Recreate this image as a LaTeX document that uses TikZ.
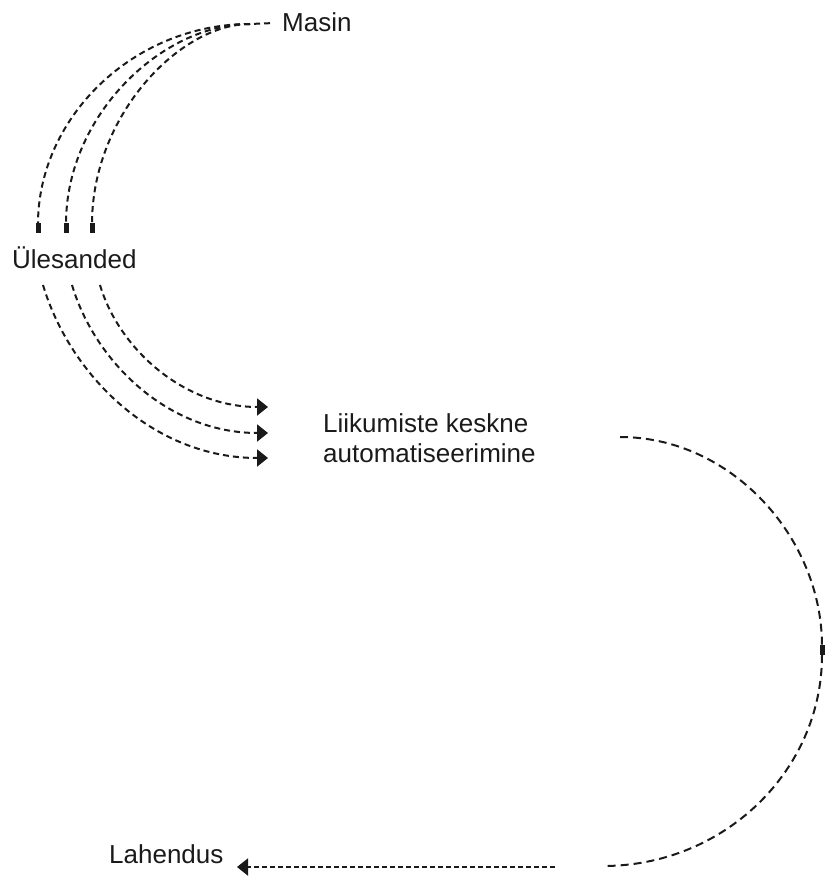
\documentclass[tikz,border=0pt]{standalone}
\usepackage{fontspec}
\setmainfont{Liberation Sans}
\usetikzlibrary{arrows.meta}
\definecolor{ink}{HTML}{1A1A1A}
\begin{document}
\begin{tikzpicture}[x=1pt,y=-1pt,
  lbl/.style={inner sep=0pt,anchor=base west,align=left,font=\fontsize{26}{30}\selectfont,text=ink},
  dline/.style={draw=ink,line width=2pt,dash pattern=on 6pt off 4pt},
  tri/.style={-{Triangle[length=11pt,width=17pt]}},
  bar/.style={-{Rectangle[length=10pt,width=5pt]}}]
\useasboundingbox (0,0) rectangle (831,877);
% nodes
\node[lbl] (masin) at (282,32) {Masin};
\node[lbl] (ules) at (12,268) {Ülesanded};
\node[lbl] (auto) at (323,462) {Liikumiste keskne\\automatiseerimine};
\node[lbl] (lah) at (109,863) {Lahendus};
% helper coordinates
\coordinate (m) at (250,24);
\coordinate (u1) at (38,233);
\coordinate (u2) at (66,233);
\coordinate (u3) at (92,233);
\coordinate (s1) at (43,285);
\coordinate (s2) at (72,285);
\coordinate (s3) at (100,285);
\coordinate (t1) at (268,458);
\coordinate (t2) at (268,433);
\coordinate (t3) at (268,407);
\coordinate (a1) at (620,437);
\coordinate (a2) at (822,655);
\coordinate (a3) at (603,866);
\coordinate (b1) at (555,867);
\coordinate (b2) at (237,867);
% Masin -> Ulesanded
\draw[dline,shorten <=12pt] (masin.west) -- (m);
\draw[dline,bar] (m) .. controls +(-117,0) and +(0,-115) .. (u1);
\draw[dline,bar] (m) .. controls +(-88,0) and +(0,-118) .. (u2);
\draw[dline,bar] (m) .. controls +(-70,0) and +(0,-118) .. (u3);
% Ulesanded -> automatiseerimine
\draw[dline,tri] (s1) .. controls +(27,90) and +(-115,0) .. (t1);
\draw[dline,tri] (s2) .. controls +(23,77) and +(-100,0) .. (t2);
\draw[dline,tri] (s3) .. controls +(19,64) and +(-84,0) .. (t3);
% automatiseerimine -> Lahendus
\draw[dline,dash pattern=on 8pt off 5pt,bar] (a1) .. controls +(111,0) and +(0,-118) .. (a2);
\draw[dline,dash pattern=on 8pt off 5pt] (a2) .. controls +(0,116) and +(121,0) .. (a3);
\draw[dline,dash pattern=on 5pt off 3pt,tri] (b1) -- (b2);
\end{tikzpicture}
\end{document}
